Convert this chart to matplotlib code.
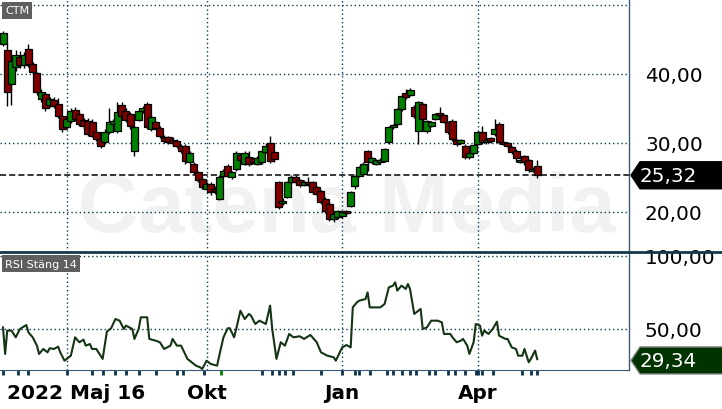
import matplotlib
matplotlib.use("Agg")
import matplotlib.pyplot as plt
from matplotlib.lines import Line2D
from matplotlib.patches import Polygon
from matplotlib.transforms import blended_transform_factory

# daily candles sampled every second trading day, starting 2022-05-16
opens = [44.3, 43.5, 38.5, 41.0, 42.5, 41.3, 43.6, 41.5, 40.1, 36.4, 37.1, 35.5, 36.3, 35.6, 33.9,
         32.3, 33.2, 34.8, 34.2, 33.3, 33.2, 33.0, 31.6, 30.6, 30.1, 31.6, 32.8, 31.7, 35.5, 34.7,
         34.2, 28.8, 33.4, 34.6, 35.6, 32.0, 33.0, 32.2, 30.9, 30.8, 30.5, 30.3, 29.6, 29.6, 27.2,
         27.0, 25.8, 24.8, 23.4, 24.1, 23.4, 21.9, 25.2, 26.7, 25.0, 26.2, 28.2, 27.0, 28.0, 27.8,
         27.0, 27.2, 28.7, 30.0, 28.7, 24.3, 21.3, 22.2, 24.3, 25.0, 24.6, 23.9, 24.4, 24.3, 23.6,
         23.0, 21.9, 21.2, 19.0, 19.3, 19.4, 20.1, 20.9, 23.8, 25.2, 25.5, 28.8, 27.2, 27.0, 27.3,
         27.4, 30.1, 32.3, 32.8, 34.9, 37.2, 37.0, 35.2, 31.7, 35.6, 31.8, 32.5, 33.5, 34.4, 34.0,
         33.0, 33.2, 30.4, 30.0, 29.6, 27.9, 28.6, 29.9, 31.6, 30.1, 30.7, 31.3, 32.8, 30.2, 30.0,
         29.4, 28.9, 27.3, 28.1, 27.5, 26.0, 26.7]
highs = [46.3, 44.5, 42.5, 43.5, 43.4, 43.2, 44.4, 41.8, 40.3, 37.8, 37.4, 36.6, 36.6, 36.5, 34.1,
         33.8, 35.0, 35.2, 34.5, 33.6, 33.6, 33.5, 31.9, 31.0, 32.0, 35.0, 33.5, 35.9, 35.9, 35.0,
         34.5, 32.5, 34.8, 35.3, 35.9, 34.0, 33.2, 32.4, 31.2, 31.0, 30.8, 30.6, 29.9, 29.8, 28.8,
         27.3, 26.0, 25.0, 24.4, 24.4, 23.7, 25.3, 26.2, 26.9, 26.0, 28.8, 28.6, 28.8, 28.9, 28.0,
         28.1, 29.0, 30.0, 31.0, 29.0, 24.5, 22.0, 24.5, 25.3, 25.3, 24.8, 24.6, 25.0, 24.5, 23.8,
         23.2, 22.1, 21.4, 19.9, 20.3, 20.2, 20.3, 23.1, 25.4, 26.7, 27.2, 29.0, 28.0, 27.7, 27.8,
         29.3, 32.5, 32.8, 35.1, 37.0, 37.8, 37.9, 35.5, 36.1, 35.8, 33.4, 33.2, 34.4, 35.2, 34.2,
         33.2, 33.5, 30.6, 30.6, 29.8, 28.8, 29.9, 31.8, 32.5, 30.6, 30.9, 33.5, 33.0, 30.4, 30.2,
         29.6, 29.1, 27.7, 28.3, 27.7, 26.5, 27.5]
lows = [44.0, 35.4, 35.5, 40.5, 40.8, 40.9, 41.0, 40.0, 37.0, 36.0, 34.7, 35.2, 35.0, 33.6, 31.6,
        32.0, 32.9, 33.2, 32.5, 32.0, 31.0, 30.8, 30.3, 29.3, 29.9, 31.3, 32.5, 31.4, 33.6, 33.0,
        32.0, 28.1, 33.2, 34.4, 32.0, 31.8, 31.9, 30.7, 30.0, 29.9, 29.6, 29.3, 28.6, 27.0, 27.0,
        25.5, 24.4, 23.3, 23.2, 22.5, 22.6, 21.7, 25.0, 25.0, 24.8, 26.0, 27.4, 26.8, 26.6, 26.9,
        26.8, 27.0, 28.5, 27.1, 27.3, 20.4, 21.0, 22.0, 24.0, 24.0, 23.6, 23.7, 23.8, 22.6, 22.3,
        21.1, 19.8, 18.7, 18.6, 19.0, 19.2, 19.6, 20.7, 23.4, 25.0, 25.3, 26.0, 27.0, 26.8, 27.1,
        27.2, 29.9, 32.0, 32.5, 34.7, 36.4, 36.8, 33.6, 29.9, 33.2, 31.5, 32.3, 33.3, 33.8, 32.9,
        31.3, 30.3, 29.6, 29.8, 27.7, 27.7, 28.4, 29.7, 29.9, 29.9, 30.0, 31.0, 29.8, 29.7, 29.2,
        28.4, 27.2, 27.1, 26.8, 25.8, 25.8, 24.9]
closes = [46.0, 37.4, 41.9, 42.8, 41.3, 42.8, 41.4, 40.3, 37.4, 37.4, 35.0, 36.4, 35.4, 33.9, 32.0,
          33.5, 34.6, 33.5, 32.8, 32.5, 31.3, 31.0, 30.6, 29.6, 31.6, 33.0, 33.2, 34.5, 33.9, 33.3,
          32.4, 32.3, 34.6, 35.0, 32.3, 33.8, 32.2, 31.0, 30.3, 30.2, 30.0, 29.6, 28.9, 27.4, 28.5,
          25.8, 24.7, 23.6, 24.0, 22.9, 23.0, 25.1, 26.0, 25.2, 25.8, 28.5, 27.6, 28.5, 27.0, 27.2,
          27.8, 28.8, 29.6, 27.4, 27.7, 20.7, 21.6, 24.3, 25.0, 24.3, 23.9, 24.4, 24.0, 22.9, 22.6,
          21.4, 20.1, 19.0, 19.7, 20.1, 20.0, 19.8, 22.9, 25.2, 26.5, 27.0, 27.2, 27.8, 27.5, 27.6,
          29.1, 32.3, 32.6, 34.9, 36.8, 36.7, 37.7, 33.9, 35.9, 33.5, 33.2, 33.0, 34.2, 34.0, 33.1,
          31.6, 30.6, 29.8, 30.4, 28.0, 28.6, 29.7, 31.6, 30.1, 30.4, 30.3, 32.0, 30.1, 29.9, 29.6,
          28.7, 27.8, 27.5, 27.2, 26.1, 26.3, 25.32]
last_price = 25.32

# RSI 14 (trading day index, value)
rsi_day = [0, 1, 2, 4, 6, 8, 11, 12, 14, 16, 17, 19, 21, 22, 24, 26, 27, 29, 32, 34, 36, 38, 39, 41,
           42, 44, 47, 49, 51, 53, 55, 57, 58, 61, 62, 64, 65, 68, 69, 72, 74, 76, 79, 80, 82, 84,
           87, 89, 91, 93, 94, 96, 98, 101, 102, 104, 106, 107, 109, 110, 112, 114, 116, 117, 119,
           121, 124, 126, 127, 129, 131, 133, 135, 137, 140, 142, 145, 148, 150, 153, 156, 157, 160,
           162, 164, 165, 167, 168, 171, 172, 173, 178, 180, 182, 184, 185, 186, 188, 190, 191, 192,
           194, 197, 198, 200, 202, 205, 207, 208, 211, 212, 214, 216, 217, 219, 220, 222, 223, 225,
           226, 227, 229, 231, 233, 234, 237, 238, 240, 242, 243, 245, 246, 248, 249, 251, 252]
rsi_vals = [51.1, 32.9, 48.9, 48.9, 44.3, 50.0, 52.7, 47.7, 44.3, 38.6, 32.9, 36.3, 34.0, 36.8, 36.3,
            37.9, 34.0, 28.3, 31.7, 44.3, 40.9, 42.7, 38.6, 39.7, 36.3, 36.3, 29.5, 48.2, 50.5, 56.8,
            55.7, 50.0, 52.3, 50.0, 43.2, 50.0, 58.0, 58.0, 43.2, 42.0, 40.9, 36.3, 38.6, 43.2, 38.6,
            38.6, 29.5, 27.2, 24.9, 23.7, 22.6, 28.3, 26.0, 24.9, 31.7, 44.3, 50.5, 50.5, 44.3, 50.0,
            62.5, 56.8, 60.3, 59.1, 53.4, 55.7, 53.4, 66.0, 50.0, 29.5, 40.9, 38.6, 46.6, 44.3, 45.0,
            43.2, 45.9, 40.9, 34.0, 31.7, 30.6, 28.3, 37.4, 39.0, 37.4, 64.8, 68.3, 69.4, 70.5, 75.1,
            64.8, 64.8, 67.1, 78.5, 79.7, 82.0, 76.3, 79.7, 77.4, 80.8, 77.4, 60.3, 63.7, 50.0, 51.1,
            55.7, 55.7, 54.6, 46.6, 46.6, 44.3, 40.9, 42.0, 43.2, 38.6, 32.9, 40.9, 53.4, 52.3, 45.4,
            48.9, 46.6, 50.0, 55.0, 45.4, 43.2, 43.2, 37.4, 36.3, 31.7, 31.7, 36.3, 27.2, 29.5, 35.2,
            29.34]
last_rsi = 29.34

quarter_days = [30, 96, 160, 224]
label_days = [2, 96, 160, 224]
label_texts = ["2022 Maj 16", "Okt", "Jan", "Apr"]
event_days = [0, 7, 12, 30, 42, 47, 53, 58, 64, 72, 82, 85, 95, 122, 127, 130, 133, 137, 150, 160,
              166, 168, 173, 181, 184, 188, 192, 195, 201, 204, 210, 213, 218, 223, 224, 226, 231,
              245, 249, 252]
event_days_green = [103]

W, H = 722, 410
GRID = "#0b3a52"
FRAME = "#3a5a78"


def rect(x0, y0, x1, y1):
    return [x0 / W, 1 - y1 / H, (x1 - x0) / W, (y1 - y0) / H]


def fmt(v):
    return f"{v:.2f}".replace(".", ",")


def tag(axis, value, text, fc, ec, half):
    tr = blended_transform_factory(axis.transAxes, axis.transData)
    pts = [(1.0032, value), (1.0175, value + half), (1.2, value + half),
           (1.2, value - half), (1.0175, value - half)]
    axis.add_patch(Polygon(pts, closed=True, transform=tr, fc=fc, ec=ec, lw=1, clip_on=False, zorder=5))
    axis.text(1.016, value, text, transform=tr, color="white", fontsize=14.4,
              ha="left", va="center", clip_on=False, zorder=6)


fig = plt.figure(figsize=(W / 100, H / 100), dpi=100)
ax = fig.add_axes(rect(0, 0, 629, 253))
ax_rsi = fig.add_axes(rect(0, 254, 629, 371))

for a in (ax, ax_rsi):
    a.set_xlim(-1.42, 295.3)
    a.tick_params(axis="x", bottom=False, labelbottom=False)
    a.set_xticks([])
    a.yaxis.tick_right()
    a.tick_params(axis="y", length=0, pad=11.5, labelsize=14.4)
    for s in ("top", "left", "bottom"):
        a.spines[s].set_visible(False)
    a.spines["right"].set_color(FRAME)
    a.spines["right"].set_linewidth(1)
    for d in quarter_days:
        a.axvline(d, color=GRID, lw=1, ls=(0, (1, 2)), zorder=1)

ax_rsi.spines["bottom"].set_visible(True)
ax_rsi.spines["bottom"].set_color(FRAME)

# price panel
ax.set_ylim(14.2, 50.87)
ax.set_yticks([20, 30, 40])
ax.set_yticklabels([fmt(v) for v in [20, 30, 40]])
for v in [20, 30, 40, 50]:
    ax.axhline(v, color=GRID, lw=1, ls=(0, (1, 2)), zorder=1)

# watermark
ax.text(78 / 629, 17.3, "Catena Media", transform=blended_transform_factory(ax.transAxes, ax.transData),
        fontsize=60, fontweight="bold", family="Liberation Sans", color="#f1f1f1", zorder=0)

xs = [2 * k for k in range(len(closes))]
body_lo = [min(o, c) for o, c in zip(opens, closes)]
body_h = [max(abs(c - o), 0.12) for o, c in zip(opens, closes)]
colors = ["#008000" if c >= o else "#800000" for o, c in zip(opens, closes)]
ax.vlines(xs, lows, highs, color="black", lw=1, zorder=3)
ax.bar(xs, body_h, bottom=body_lo, width=3.3, color=colors, edgecolor="black", lw=0.9, zorder=4)

ax.axhline(last_price, color="black", lw=1.1, ls=(0, (4, 2)), zorder=2)
tag(ax, last_price, fmt(last_price), "black", "black", 13.5 / 6.9)

ax.text(5 / 629, 1 - 11.5 / 253, "CTM", transform=ax.transAxes, fontsize=8, color="white",
        ha="left", va="center", bbox=dict(boxstyle="square,pad=0.3", fc="#5f5f5f", ec="none"))

# RSI panel
ax_rsi.set_ylim(21.9, 102.05)
ax_rsi.set_yticks([50, 100])
ax_rsi.set_yticklabels([fmt(v) for v in [50, 100]])
for v in [50, 100]:
    ax_rsi.axhline(v, color=GRID, lw=1, ls=(0, (1, 2)), zorder=1)
ax_rsi.plot(rsi_day, rsi_vals, color="#143414", lw=1.5, zorder=3)
tag(ax_rsi, last_rsi - 0.9, fmt(last_rsi), "#003300", "#808080", 13.5 / 1.46)

ax_rsi.text(5 / 629, 1 - 10.5 / 117, "RSI Stäng 14", transform=ax_rsi.transAxes, fontsize=8,
            color="white", ha="left", va="center",
            bbox=dict(boxstyle="square,pad=0.3", fc="#5f5f5f", ec="none"))

bt = blended_transform_factory(ax_rsi.transData, ax_rsi.transAxes)
ax_rsi.vlines(event_days, -5 / 117, 0, transform=bt, color="#0c3048", lw=2, clip_on=False)
ax_rsi.vlines(event_days_green, -5 / 117, 0, transform=bt, color="#008000", lw=2, clip_on=False)

for d, t in zip(label_days, label_texts):
    ax_rsi.text(d, -28 / 117, t, transform=bt, fontsize=14.4, fontweight="bold",
                ha="left" if d == label_days[0] else "center", va="baseline")

fig.add_artist(Line2D([0, 1], [1 - 253 / H] * 2, transform=fig.transFigure, color="#15384a", lw=2))

fig.savefig("out.png", dpi=100)
